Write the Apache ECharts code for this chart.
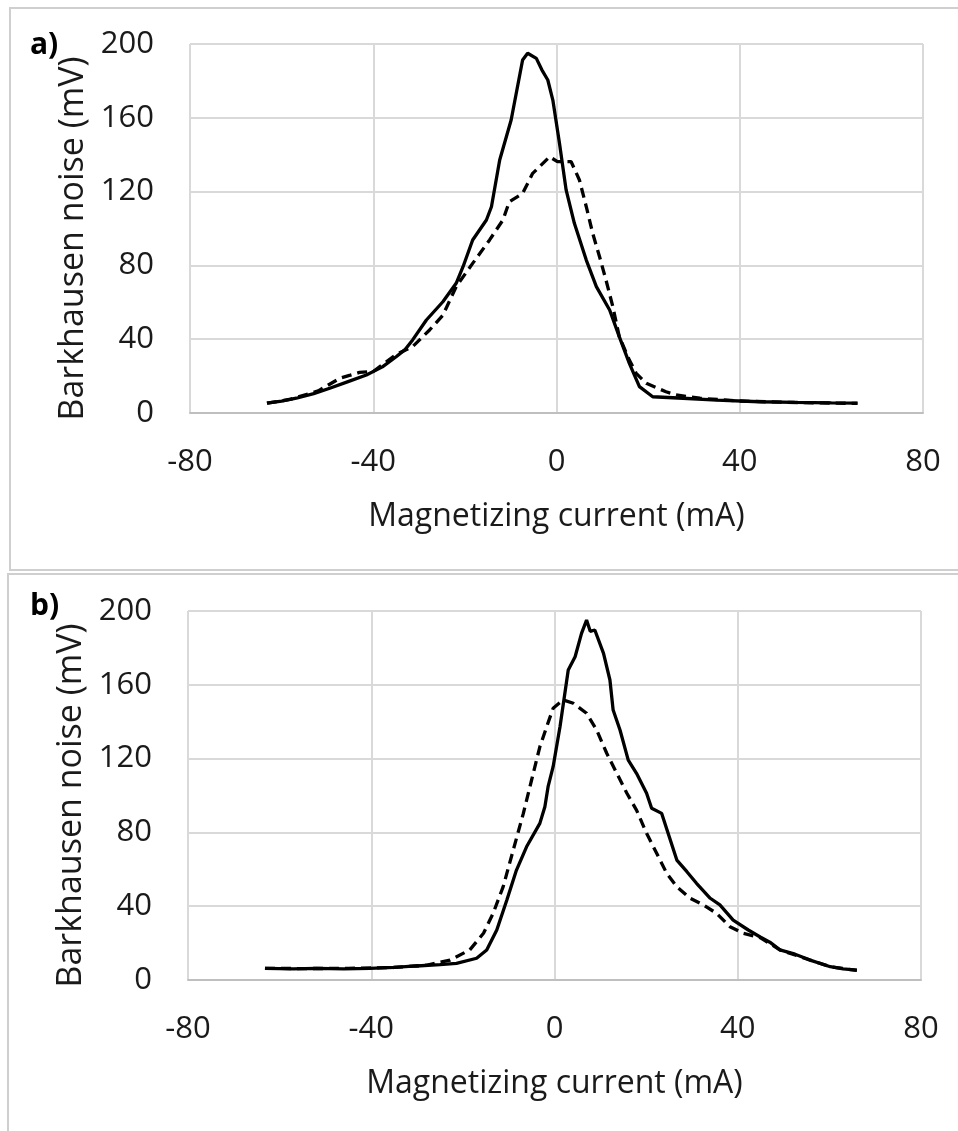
<!DOCTYPE html>
<html>
<head>
<meta charset="utf-8">
<script src="https://cdn.jsdelivr.net/npm/echarts@6/dist/echarts.min.js"></script>
<style>
  html, body { margin: 0; padding: 0; background: #fff; }
  #chart { width: 958px; height: 1131px; }
</style>
</head>
<body>
<div id="chart"></div>
<script>
// panel a) - solid and dashed traces, [current mA, noise mV]
const aSolid = [
  [-63.2, 5.3], [-60, 6.5], [-56.8, 8], [-53, 10.5], [-49.5, 13.4], [-45.5, 17], [-41.5, 20.6],
  [-38, 25], [-35, 30.5], [-33, 34.5], [-31.4, 39.6], [-28.4, 50.4], [-24.8, 60.3], [-21.9, 70.3],
  [-20.4, 79.3], [-18.3, 93.8], [-15.3, 104.6], [-14.2, 111.8], [-12.4, 137.1], [-9.9, 158.8],
  [-7.4, 191.3], [-6.3, 195], [-4.4, 192.2], [-3.2, 186], [-1.9, 180.5], [-0.8, 169.6],
  [0.65, 146.2], [2.1, 120.9], [3.9, 102.8], [6.5, 82.9], [8.7, 68.5], [11.6, 55.8],
  [13.7, 41.4], [15.9, 26.9], [18.1, 14.3], [21, 8.8], [27.6, 8], [35, 7], [44.3, 6.1],
  [52, 5.8], [60, 5.5], [65.7, 5.3]
];
const aDashed = [
  [-63.2, 5.3], [-58, 7.5], [-52, 12], [-47.3, 18.8], [-45, 20.5], [-43, 22], [-40, 22.5],
  [-35, 31.7], [-31.4, 36], [-27.7, 45], [-24.8, 53], [-21.9, 68.5], [-18.3, 81.1],
  [-14.6, 93.8], [-11.7, 104.6], [-10.3, 114.5], [-7.4, 119], [-5.2, 129.9], [-3.7, 133.5],
  [-1.5, 138.9], [0.2, 136.2], [3.2, 136.2], [5, 126.3], [6.5, 111.8], [7.9, 97.4],
  [9.4, 84.7], [10.8, 72.1], [12.3, 57.6], [13.7, 41.4], [15.9, 28.7], [17.4, 21.5],
  [19.6, 16.1], [23.9, 11.5], [26.1, 9.8], [31.3, 8], [40, 6.5], [50, 5.8], [60, 5.4], [65.7, 5.2]
];

// panel b)
const bSolid = [
  [-63.2, 6.3], [-57, 6], [-51.9, 6.3], [-46, 6], [-40.3, 6.3], [-35, 6.8], [-30.1, 7.6],
  [-25, 8.3], [-21.4, 9], [-17, 11.8], [-14.8, 16.3], [-12.6, 27.1], [-10.4, 43.4],
  [-8.3, 59.6], [-6.1, 72.2], [-3.2, 84.9], [-2.1, 93.9], [-1.4, 104.8], [-0.3, 115.6],
  [1.2, 137.3], [3, 168], [4.5, 175.2], [5.9, 187.9], [7, 195.1], [7.8, 189], [8.8, 189.7],
  [10.7, 177], [12.1, 162.6], [12.8, 146.3], [14.3, 135.5], [16.1, 119.2], [17.9, 112],
  [20.1, 101.2], [21.2, 93.1], [23.4, 90.3], [24.8, 79.5], [26.7, 65], [28.9, 58.7],
  [31, 52.4], [34, 44.3], [36.1, 40.7], [39, 32.5], [42.3, 27.1], [44.9, 23.3], [47, 20.5],
  [49.2, 16.3], [52.5, 14], [55.8, 10.8], [60.2, 7.2], [63, 6], [66, 5.4]
];
const bDashed = [
  [-63.2, 6.3], [-55, 6.2], [-45, 6.3], [-35, 6.8], [-28, 8], [-22.8, 10.8], [-18.5, 16.3],
  [-15.5, 25.3], [-13.4, 36.1], [-11.2, 50.6], [-9, 70.5], [-6.8, 90.3], [-5, 108.4],
  [-3.2, 126.4], [-1.7, 137.3], [-0.3, 147.3], [1.9, 151.8], [4.1, 150], [7, 144.6],
  [9.2, 135.5], [11.4, 122.9], [13.6, 112], [15.8, 101.2], [17.9, 92.1], [20.1, 79.5],
  [22.3, 68.7], [24.5, 57.8], [26.7, 50.6], [29.6, 44.3], [32.5, 40.7], [35.4, 36.1],
  [38.3, 28.9], [41.2, 25.3], [44.9, 23], [49.2, 16.3], [55.8, 10.8], [60.2, 7.2], [66, 5.2]
];

const panelTags = ['a)', 'b)'];
const xName = 'Magnetizing current (mA)';
const yName = 'Barkhausen noise (mV)';

const font = 'Open Sans';
const txt = '#1a1a1a';
const gridColor = '#d9d9d9';

const myChart = echarts.init(document.getElementById('chart'));

function xAxisFor(i) {
  return {
    gridIndex: i,
    type: 'value',
    min: -80, max: 80, interval: 40,
    name: xName,
    nameLocation: 'middle',
    nameGap: 88,
    nameTextStyle: { fontFamily: font, fontSize: 32, color: txt },
    axisLine: { show: true, onZero: false, lineStyle: { color: '#bfbfbf', width: 2 } },
    axisTick: { show: false },
    axisLabel: { fontFamily: font, fontSize: 31, color: txt, margin: 34 },
    splitLine: { show: true, lineStyle: { color: gridColor, width: 2 } }
  };
}
function yAxisFor(i) {
  return {
    gridIndex: i,
    type: 'value',
    min: 0, max: 200, interval: 40,
    name: yName,
    nameLocation: 'middle',
    nameGap: 100,
    nameTextStyle: { fontFamily: font, fontSize: 34, color: txt, padding: [0, 20, 0, 0] },
    axisLine: { show: false },
    axisTick: { show: false },
    axisLabel: { fontFamily: font, fontSize: 31, color: txt, margin: 36 },
    splitLine: { show: true, lineStyle: { color: gridColor, width: 2 } }
  };
}
function line(data, i, dashed) {
  return {
    type: 'line',
    xAxisIndex: i, yAxisIndex: i,
    data: data,
    showSymbol: false,
    symbol: 'none',
    smooth: false,
    silent: true,
    lineStyle: { color: '#000', width: 3.3, type: dashed ? [10, 6] : 'solid' },
    animation: false
  };
}

const options = {
  backgroundColor: '#fff',
  animation: false,
  grid: [
    { left: 190, top: 44, width: 733, height: 369 },
    { left: 188, top: 611, width: 733, height: 369 }
  ],
  xAxis: [xAxisFor(0), xAxisFor(1)],
  yAxis: [yAxisFor(0), yAxisFor(1)],
  series: [
    line(aSolid, 0, false), line(aDashed, 0, true),
    line(bSolid, 1, false), line(bDashed, 1, true)
  ],
  graphic: [
    // panel frames
    { type: 'rect', shape: { x: 10, y: 8, width: 960, height: 562 }, style: { fill: 'none', stroke: '#cfcfcf', lineWidth: 2 }, z: -1 },
    { type: 'rect', shape: { x: 8, y: 574, width: 962, height: 570 }, style: { fill: 'none', stroke: '#cfcfcf', lineWidth: 2 }, z: -1 },
    { type: 'text', left: 30, top: 30, style: { text: panelTags[0], font: 'bold 30px "Open Sans"', fill: '#000' } },
    { type: 'text', left: 30, top: 591, style: { text: panelTags[1], font: 'bold 30px "Open Sans"', fill: '#000' } }
  ]
};

myChart.setOption(options);
</script>
</body>
</html>
